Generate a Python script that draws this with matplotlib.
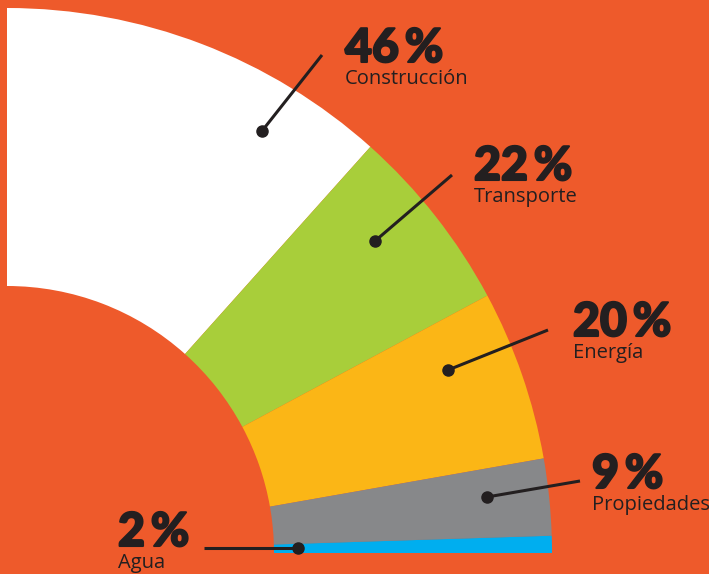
import matplotlib
matplotlib.use('Agg')
import matplotlib.pyplot as plt
import matplotlib.patheffects as pe

# Data: share of spending by sector
sectors = ['Construcción', 'Transporte', 'Energía', 'Propiedades', 'Agua']
shares = [46, 22, 20, 9, 2]
colors = ['#FFFFFF', '#A8CE3A', '#FBB616', '#87888A', '#00AEEF']
bg = '#EE5A2B'
ink = '#231F20'

W, H = 709, 574
fig = plt.figure(figsize=(W / 100, H / 100), dpi=100, facecolor=bg)
ax = fig.add_axes([0, 0, 1, 1])
ax.set_facecolor(bg)

# quarter donut: fractions scaled so the whole set fills 90 degrees
total = sum(shares)
fracs = [s / total * 0.25 for s in shares]
cx, cy = 7, H - 553
r_out, r_in = 545, 267
ax.pie(fracs, normalize=False, startangle=90, counterclock=False,
       colors=colors, center=(cx, cy), radius=r_out,
       wedgeprops=dict(width=r_out - r_in, linewidth=0))

# label layout (pixel coords from top-left): dot, line end, text anchor
dots = [(262, 131), (375, 241), (448, 370), (487, 497), (298, 548)]
ends = [(322, 55), (452, 175), (548, 330), (580, 481), (204, 548)]
text_xy = [(345, 62), (474, 180), (573, 336), (592, 488), (118, 546)]

heavy = [pe.withStroke(linewidth=1.5, foreground=ink)]
for name, s, d, e, t in zip(sectors, shares, dots, ends, text_xy):
    ax.plot([d[0], e[0]], [H - d[1], H - e[1]], color=ink, lw=2.2,
            solid_capstyle='butt')
    ax.plot(d[0], H - d[1], 'o', color=ink, ms=8)
    ax.text(t[0], H - t[1], f'{s}\u2009%', family='Lato', fontweight='black',
            fontsize=33.5, color=ink, ha='left', va='baseline', path_effects=heavy)
    ax.text(t[0], H - t[1] - 22, name, family='Open Sans', fontsize=14.5,
            color=ink, ha='left', va='baseline')

ax.set_xlim(0, W)
ax.set_ylim(0, H)
ax.set_aspect('auto')
ax.axis('off')
fig.savefig('out.png', dpi=100, facecolor=bg)
